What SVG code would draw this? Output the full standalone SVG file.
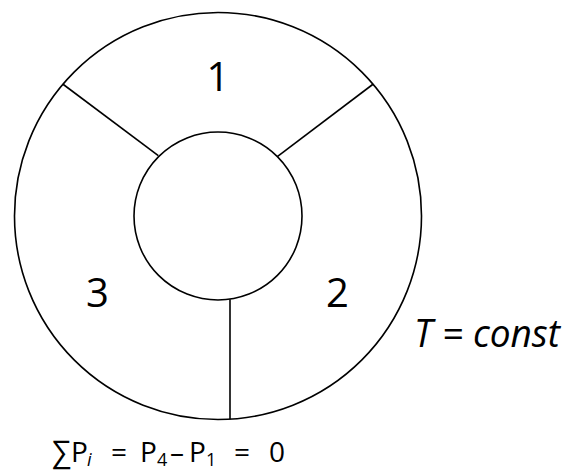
<svg xmlns="http://www.w3.org/2000/svg" width="566" height="470" viewBox="0 0 566 470">
<style>
.shape{fill:#fff;stroke:#000;stroke-width:1.6}
.line{stroke:#000;stroke-width:1.6;fill:none}
.lbl{font-family:"Open Sans","Liberation Sans",sans-serif;fill:#000}
.sub{font-size:18px}
</style>
<rect width="566" height="470" fill="#fff"/>
<g id="outer"><circle class="shape" cx="218" cy="216" r="203.5"/></g>
<g id="inner"><circle class="shape" cx="218" cy="216" r="84"/></g>
<g id="connectors">
<line class="line" x1="62.7" y1="84" x2="158.3" y2="155.7"/>
<line class="line" x1="373.3" y1="84" x2="277.3" y2="156.7"/>
<line class="line" x1="230" y1="299.2" x2="230" y2="419.2"/>
</g>
<g id="sector1"><text class="lbl" x="218" y="91" font-size="40" text-anchor="middle">1</text></g>
<g id="sector2"><text class="lbl" x="337.5" y="307" font-size="40" text-anchor="middle">2</text></g>
<g id="sector3"><text class="lbl" x="97.5" y="307" font-size="40" text-anchor="middle">3</text></g>
<g id="temp"><text class="lbl" x="414" y="347" font-size="38" font-style="italic" textLength="146" lengthAdjust="spacingAndGlyphs">T = const</text></g>
<g id="sum"><text class="lbl" y="462" font-size="28"><tspan x="52" font-size="30">∑</tspan><tspan x="71">P</tspan><tspan x="87" y="466" class="sub" font-style="italic">i</tspan><tspan x="111" y="462">=</tspan><tspan x="140">P</tspan><tspan x="157" y="466" class="sub">4</tspan><tspan x="170" y="462">–</tspan><tspan x="189">P</tspan><tspan x="206" y="466" class="sub">1</tspan><tspan x="234" y="462">=</tspan><tspan x="269">0</tspan></text></g>
</svg>
